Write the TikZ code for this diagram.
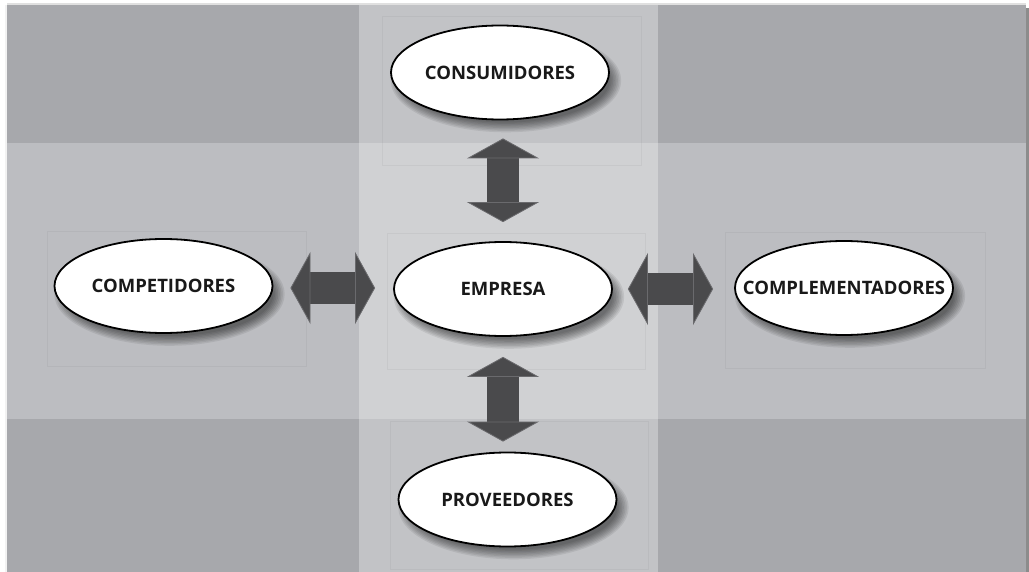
\documentclass[tikz,border=0pt]{standalone}
\usepackage{fontspec}
\setmainfont{Open Sans}
\usetikzlibrary{shapes.geometric,arrows.meta,calc}

\definecolor{corner}{HTML}{A7A8AC}
\definecolor{sideband}{HTML}{BCBDC1}
\definecolor{colband}{HTML}{C2C3C6}
\definecolor{centre}{HTML}{D0D1D3}
\definecolor{arrowdark}{HTML}{4A4A4C}
\definecolor{arrowedge}{HTML}{6A6A6D}

\newcommand{\actorlabel}[1]{\makebox[0pt]{#1}}

\tikzset{
  actor/.style={ellipse, draw=black, line width=1.8pt, fill=white,
    minimum width=218pt, minimum height=94pt, inner sep=0pt,
    font=\fontsize{18.5}{22}\selectfont\bfseries, text=black!90},
  guide/.style={draw=black, draw opacity=0.04, line width=0.8pt},
  link/.style={draw=arrowdark, line width=32pt,
    {Triangle[length=20pt,width=72pt,line width=0.8pt,fill=arrowdark,color=arrowedge]}-{Triangle[length=20pt,width=72pt,line width=0.8pt,fill=arrowdark,color=arrowedge]}},
}

\begin{document}
\begin{tikzpicture}[x=1pt,y=-1pt]
\useasboundingbox (0,0) rectangle (1029,572);
\fill[white] (0,0) rectangle (1029,572);

% panel shadow edges
\fill[black!12] (7,3) rectangle (1026,5);
\fill[black!5] (5,5) rectangle (7,572);
\fill[black!45] (1026,8) rectangle (1029,572);

% panel bands
\fill[corner] (7,5) rectangle (1026,572);
\fill[sideband] (7,143) rectangle (1026,419);
\fill[colband] (359,5) rectangle (658,572);
\fill[centre] (359,143) rectangle (658,419);

% faint frames behind each actor
\draw[guide] (382,16) rectangle (641,165);
\draw[guide] (47,231) rectangle (306,366);
\draw[guide] (387,233) rectangle (645,369);
\draw[guide] (725,232) rectangle (985,368);
\draw[guide] (390,421) rectangle (648,569);

% actor positions
\coordinate (pcons) at (500,72.5);
\coordinate (pemp)  at (503,289);
\coordinate (pcomp) at (163.5,286);
\coordinate (pcompl) at (844,288);
\coordinate (pprov) at (507.5,499.5);

% soft drop shadows
\foreach \p in {pcons,pemp,pcomp,pcompl,pprov}{
  \foreach \k in {0,...,7}{
    \fill[black, opacity=0.075] ($(\p)+(6,8)$) ellipse [x radius={104+1.6*\k}, y radius={42+1.4*\k}];
  }
}

% actors
\node[actor] (cons)  at (pcons)  {\actorlabel{CONSUMIDORES}};
\node[actor] (emp)   at (pemp)   {\actorlabel{EMPRESA}};
\node[actor] (comp)  at (pcomp)  {\actorlabel{COMPETIDORES}};
\node[actor] (compl) at (pcompl) {\actorlabel{COMPLEMENTADORES}};
\node[actor] (prov)  at (pprov)  {\actorlabel{PROVEEDORES}};

% two-way relations
\draw[link, shorten <=18pt, shorten >=19pt] (cons.south -| emp.north) -- (emp.north);
\draw[link, shorten <=20pt, shorten >=10pt] (emp.south) -- (emp.south |- prov.north);
\draw[link, shorten <=17pt, shorten >=18pt] (comp.east |- 0,288) -- (emp.west |- 0,288);
\draw[link, shorten <=15pt, shorten >=21pt] (emp.east) -- (compl.west |- emp.east);
\end{tikzpicture}
\end{document}
